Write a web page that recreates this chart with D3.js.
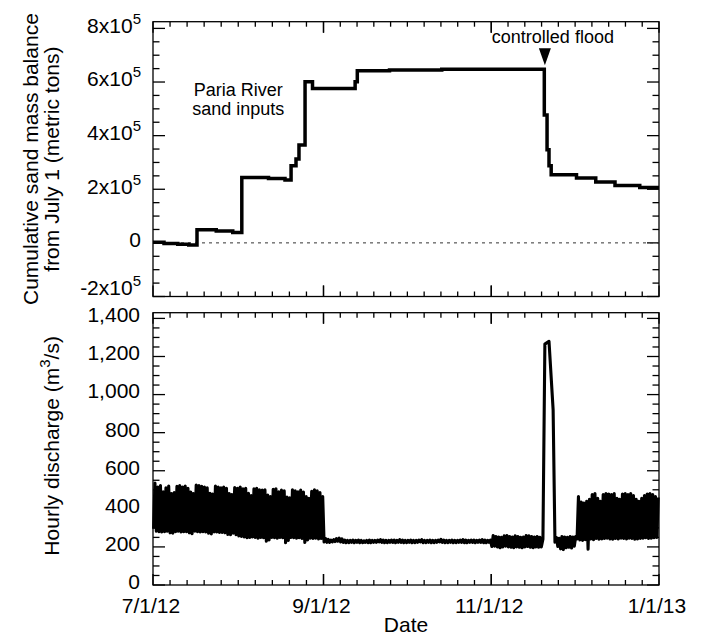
<!DOCTYPE html>
<html>
<head>
<meta charset="utf-8">
<script src="https://cdn.jsdelivr.net/npm/d3@7"></script>
<style>
    body { margin: 0; background: #fff; }
    svg { font-family: "Liberation Sans", Arial, sans-serif; }
</style>
</head>
<body>
<svg id="chart" width="703" height="635"></svg>
<script>
// time axis
const xDomain = ['2012-07-01', '2013-01-01'];
const xMajorTicks = ['2012-07-01', '2012-09-01', '2012-11-01', '2013-01-01'];

// upper panel: cumulative sand mass balance (metric tons), step series
const sandDates = ['2012-07-01', '2012-07-05', '2012-07-10', '2012-07-14', '2012-07-17',
    '2012-07-24', '2012-07-30', '2012-08-02T07', '2012-08-12', '2012-08-18', '2012-08-20T05',
    '2012-08-22', '2012-08-23T02', '2012-08-25T07', '2012-08-28', '2012-09-12T12',
    '2012-09-13T07', '2012-09-25', '2012-10-14', '2012-11-20T07', '2012-11-21T07',
    '2012-11-22T00', '2012-11-22T19', '2012-12-02', '2012-12-09', '2012-12-16',
    '2012-12-25', '2013-01-01'];
const sandBalance = [2000, -2000, -5000, -8000, 49000,
    44000, 39000, 244000, 240000, 235000, 288000,
    313000, 365000, 601000, 576000, 601000,
    642000, 645000, 648000, 477000, 347000,
    288000, 254000, 242000, 227000, 214000,
    207000, 207000];
const sandTicks = [-200000, 0, 200000, 400000, 600000, 800000];

// lower panel: hourly discharge (m3/s), daily low (early morning) and high (afternoon)
const julyLow = [295, 282, 280, 278, 280, 282, 274, 272, 280, 282, 278, 280, 280, 274, 270, 282, 280, 278, 280, 278, 272, 268, 278, 278, 276, 276, 274, 266, 264, 272, 264];
const julyHigh = [535, 515, 522, 490, 510, 520, 480, 485, 518, 522, 515, 520, 508, 488, 480, 525, 522, 518, 515, 510, 482, 478, 520, 515, 510, 515, 508, 480, 475, 512, 508];
const augLow = [258, 255, 252, 248, 250, 252, 250, 246, 250, 248, 230, 236, 250, 248, 246, 250, 248, 222, 234, 250, 248, 246, 248, 244, 224, 236, 246, 244, 246, 242, 244];
const augHigh = [515, 505, 508, 482, 470, 505, 508, 500, 498, 500, 472, 465, 502, 505, 490, 498, 495, 462, 458, 500, 495, 490, 498, 488, 465, 455, 492, 500, 495, 485, 465];
const sepLow = [226, 224, 224, 226, 228, 230, 226, 224, 222, 222, 224, 222, 224, 222, 222, 224, 222, 222, 224, 224, 226, 224, 222, 222, 224, 224, 222, 224, 224, 222];
const sepHigh = [244, 240, 236, 238, 244, 246, 242, 236, 234, 234, 236, 234, 236, 234, 232, 234, 236, 234, 234, 236, 238, 236, 234, 234, 236, 236, 234, 238, 236, 234];
const octLow = [222, 224, 222, 222, 224, 226, 222, 222, 224, 222, 222, 224, 226, 224, 222, 222, 224, 222, 222, 224, 224, 222, 222, 224, 224, 222, 224, 224, 222, 222, 224];
const octHigh = [234, 236, 234, 234, 236, 238, 234, 234, 236, 234, 234, 236, 240, 236, 234, 234, 236, 234, 234, 236, 238, 236, 234, 236, 236, 234, 236, 238, 236, 234, 236];
const novLow = [202, 204, 200, 196, 200, 204, 200, 198, 196, 200, 198, 196, 200, 202, 198, 196, 200, 198, null, null, null, null, null, null, 202, 190, 186, 196, 198, 194];
const novHigh = [260, 255, 252, 250, 258, 260, 255, 252, 258, 255, 250, 252, 260, 258, 255, 252, 255, 250, null, null, null, null, null, 250, 245, 255, 252, 250, 255, 252];
const decLow = [204, 242, 236, 234, 238, 188, 242, 238, 244, 240, 242, 244, 246, 242, 240, 244, 242, 246, 244, 242, 246, 244, 240, 242, 244, 246, 248, 244, 246, 248, 250];
const decHigh = [255, 465, 435, 430, 440, 450, 475, 480, 455, 440, 475, 480, 478, 475, 480, 455, 450, 478, 480, 475, 480, 470, 450, 440, 455, 470, 478, 480, 475, 465, 460];
const monthStarts = ['2012-07-01', '2012-08-01', '2012-09-01', '2012-10-01', '2012-11-01', '2012-12-01'];

// controlled flood (high-flow experiment)
const floodDates = ['2012-11-19T05', '2012-11-19T19', '2012-11-20T12', '2012-11-22T00', '2012-11-23T12', '2012-11-24T04'];
const floodDischarge = [200, 240, 1265, 1280, 920, 225];
const dischargeTicks = [0, 200, 400, 600, 800, 1000, 1200, 1400];

const parse = s => d3.utcParse(s.length > 10 ? '%Y-%m-%dT%H' : '%Y-%m-%d')(s);

const svg = d3.select('#chart');
const left = 153, right = 659;
const top1 = 21.7, bottom1 = 296.5;
const top2 = 312.7, bottom2 = 585;

const x = d3.scaleUtc().domain(xDomain.map(parse)).range([left, right]);
const ySand = d3.scaleLinear().domain([-200000, 825000]).range([bottom1, top1]);
const yQ = d3.scaleLinear().domain([0, 1430]).range([bottom2, top2]);

// discharge points
const lows = [julyLow, augLow, sepLow, octLow, novLow, decLow];
const highs = [julyHigh, augHigh, sepHigh, octHigh, novHigh, decHigh];
let discharge = [];
monthStarts.forEach((m, i) => {
    const start = parse(m);
    lows[i].forEach((v, d) => {
        if (v != null) discharge.push({ date: d3.utcHour.offset(d3.utcDay.offset(start, d), 5), q: v });
    });
    highs[i].forEach((v, d) => {
        if (v != null) discharge.push({ date: d3.utcHour.offset(d3.utcDay.offset(start, d), 17), q: v });
    });
});
floodDates.forEach((d, i) => discharge.push({ date: parse(d), q: floodDischarge[i] }));
discharge.sort((a, b) => a.date - b.date);

const sand = sandDates.map((d, i) => ({ date: parse(d), v: sandBalance[i] }));

function frame(yScale, top, bottom, step, majorStep) {
    const g = svg.append('g').attr('stroke', '#000').attr('stroke-width', 1.3);
    g.append('rect')
        .attr('x', left).attr('y', top)
        .attr('width', right - left).attr('height', bottom - top)
        .attr('fill', 'none');

    // x ticks, ten divisions between labelled dates
    const majors = xMajorTicks.map(d => x(parse(d)));
    for (let i = 0; i < majors.length - 1; i++) {
        for (let k = 0; k <= 10; k++) {
            const px = majors[i] + (majors[i + 1] - majors[i]) * k / 10;
            const len = (k === 0 || k === 10) ? 11 : 5;
            g.append('line').attr('x1', px).attr('x2', px).attr('y1', bottom).attr('y2', bottom - len);
            g.append('line').attr('x1', px).attr('x2', px).attr('y1', top).attr('y2', top + len);
        }
    }

    // y ticks on both sides
    const [d0, d1] = yScale.domain();
    for (let v = Math.ceil(d0 / step) * step; v <= d1; v += step) {
        const py = yScale(v);
        const len = Math.abs(v % majorStep) < 1e-6 ? 12 : 6.5;
        g.append('line').attr('x1', left).attr('x2', left + len).attr('y1', py).attr('y2', py);
        g.append('line').attr('x1', right).attr('x2', right - len).attr('y1', py).attr('y2', py);
    }
}

frame(ySand, top1, bottom1, 50000, 200000);
frame(yQ, top2, bottom2, 50, 200);

// zero line
svg.append('line')
    .attr('x1', left).attr('x2', right)
    .attr('y1', ySand(0)).attr('y2', ySand(0))
    .attr('stroke', '#333').attr('stroke-width', 1)
    .attr('stroke-dasharray', '3,4');

// series
svg.append('path')
    .datum(sand)
    .attr('fill', 'none')
    .attr('stroke', '#000')
    .attr('stroke-width', 3.5)
    .attr('d', d3.line().x(d => x(d.date)).y(d => ySand(d.v)).curve(d3.curveStepAfter));

svg.append('path')
    .datum(discharge)
    .attr('fill', 'none')
    .attr('stroke', '#000')
    .attr('stroke-width', 3.1)
    .attr('stroke-linejoin', 'round')
    .attr('d', d3.line().x(d => x(d.date)).y(d => yQ(d.q)));

// tick labels
const fs = 21;
sandTicks.forEach(v => {
    const t = svg.append('text')
        .attr('x', 141)
        .attr('y', ySand(v) - 3 + (v === -200000 ? -6 : 0))
        .attr('dy', '0.35em')
        .attr('text-anchor', 'end')
        .attr('font-size', fs);
    if (v === 0) {
        t.text('0');
    } else {
        t.append('tspan').text(`${v / 100000}x10`);
        t.append('tspan').attr('dy', -9).attr('font-size', 15).text('5');
    }
});

dischargeTicks.forEach(v => {
    svg.append('text')
        .attr('x', 140)
        .attr('y', yQ(v) - 3.5)
        .attr('dy', '0.35em')
        .attr('text-anchor', 'end')
        .attr('font-size', fs)
        .text(d3.format(',')(v));
});

xMajorTicks.forEach(d => {
    svg.append('text')
        .attr('x', x(parse(d)) - 2)
        .attr('y', 613)
        .attr('text-anchor', 'middle')
        .attr('font-size', fs)
        .text(d3.utcFormat('%-m/%-d/%y')(parse(d)));
});

// axis titles
svg.append('text')
    .attr('x', (left + right) / 2)
    .attr('y', 632)
    .attr('text-anchor', 'middle')
    .attr('font-size', fs)
    .text('Date');

const t1 = svg.append('g').attr('transform', `translate(0,${(top1 + bottom1) / 2}) rotate(-90)`);
t1.append('text').attr('y', 38).attr('text-anchor', 'middle').attr('font-size', fs)
    .text('Cumulative sand mass balance');
t1.append('text').attr('y', 59).attr('text-anchor', 'middle').attr('font-size', fs)
    .text('from July 1 (metric tons)');

const t2 = svg.append('text')
    .attr('transform', `translate(59,${(top2 + bottom2) / 2 - 3}) rotate(-90)`)
    .attr('text-anchor', 'middle')
    .attr('font-size', fs);
t2.append('tspan').text('Hourly discharge (m');
t2.append('tspan').attr('dy', -9).attr('font-size', 15).text('3');
t2.append('tspan').attr('dy', 9).text('/s)');

// annotations
const pariaX = x(parse('2012-08-01'));
svg.append('text').attr('x', pariaX).attr('y', 96)
    .attr('text-anchor', 'middle').attr('font-size', 18).text('Paria River');
svg.append('text').attr('x', pariaX).attr('y', 115)
    .attr('text-anchor', 'middle').attr('font-size', 18).text('sand inputs');

const floodX = x(parse('2012-11-20T12'));
const tipY = ySand(648000) - 4;
svg.append('path')
    .attr('d', `M${floodX},${tipY} L${floodX - 6},${tipY - 17} L${floodX + 6},${tipY - 17} Z`)
    .attr('fill', '#000');
svg.append('text').attr('x', floodX + 8).attr('y', 43)
    .attr('text-anchor', 'middle').attr('font-size', 18).text('controlled flood');
</script>
</body>
</html>
